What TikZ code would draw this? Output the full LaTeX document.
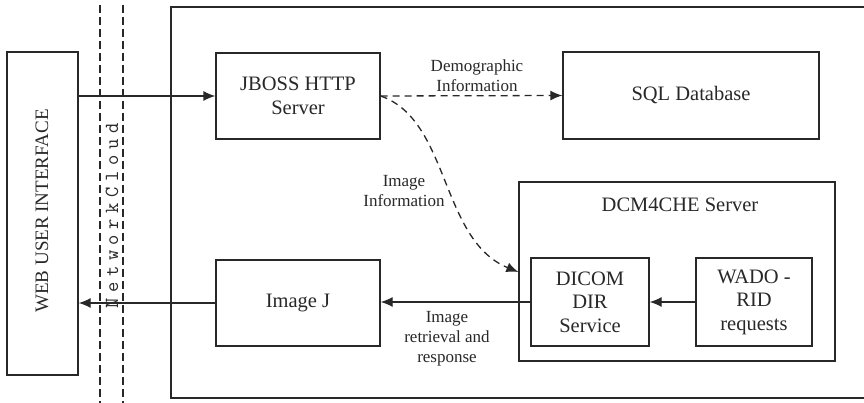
\documentclass[tikz,border=0pt]{standalone}
\usepackage{fontspec}
\setmainfont{Liberation Serif}
\usetikzlibrary{arrows.meta}
\definecolor{ink}{RGB}{40,40,40}
\newcommand{\nsp}{\hspace{5.6pt}}
\begin{document}
\begin{tikzpicture}[x=1pt,y=-1pt,
  box/.style={draw=ink, line width=1.3pt, rectangle, inner sep=0pt, align=center,
    font=\fontsize{20.5}{23.5}\selectfont, text=ink},
  lbl/.style={align=center, inner sep=0pt, font=\fontsize{17}{20}\selectfont, text=ink},
  conn/.style={draw=ink, line width=1.3pt, -{Latex[length=12pt,width=10pt]}},
  dconn/.style={conn, dash pattern=on 7pt off 5pt},
  netline/.style={draw=ink, line width=1.1pt, dash pattern=on 8pt off 4pt}]
\useasboundingbox (0,0) rectangle (864,403);
\fill[white] (0,0) rectangle (864,403);
% outer box (right edge beyond the picture)
\draw[draw=ink, line width=1.3pt] (866,7) -- (171,7) -- (171,398) -- (866,398);
% network cloud lines
\draw[netline] (100,5) -- (100,403);
\draw[netline] (123,5) -- (123,403);
\node[rotate=90, inner sep=0pt, text=ink, font=\ttfamily\fontsize{20}{21}\selectfont] (net) at (112,216)
  {N\nsp e\nsp t\nsp w\nsp o\nsp r\nsp k\nsp C\nsp l\nsp o\nsp u\nsp d};
% boxes
\node[box, minimum width=71pt, minimum height=323pt] (web) at (42.5,213.5) {};
\node[rotate=90, inner sep=0pt, text=ink, font=\fontsize{19}{21}\selectfont] (webtext) at (42,211) {WEB USER INTERFACE};
\node[box, minimum width=164pt, minimum height=86pt] (jboss) at (298,96) {JBOSS HTTP\\Server};
\node[box, minimum width=256pt, minimum height=87pt] (sql) at (691,95.5) {SQL Database};
\node[box, minimum width=316pt, minimum height=179pt] (dcm) at (677,271.5) {};
\node[inner sep=0pt, text=ink, font=\fontsize{20.5}{23.5}\selectfont] (dcmtext) at (680,205) {DCM4CHE Server};
\node[box, minimum width=118pt, minimum height=88pt] (dicom) at (590,302) {DICOM\\DIR\\Service};
\node[box, minimum width=116pt, minimum height=88pt] (wado) at (754,302) {WADO -\\RID\\requests};
\node[box, minimum width=164pt, minimum height=86pt] (imagej) at (298,303) {Image J};
% labels
\node[lbl] (demo) at (477,76) {Demographic\\Information};
\node[lbl] (imginfo) at (404,191) {Image\\Information};
\node[lbl] (retr) at (447,339) {Image\\retrieval and\\response};
% connectors
\draw[conn] (web.east |- jboss.west) -- (jboss.west);
\draw[conn] (imagej.west) -- (imagej.west -| web.east);
\draw[conn] (dicom.west) -- (dicom.west -| imagej.east);
\draw[conn] (wado.west) -- (dicom.east);
\draw[dconn] (jboss.east) -- (sql.west);
\coordinate (cin) at (dcm.west |- 0,272);
\draw[dconn] (jboss.east) .. controls (450,120) and (440,240) .. (cin);
\end{tikzpicture}
\end{document}
